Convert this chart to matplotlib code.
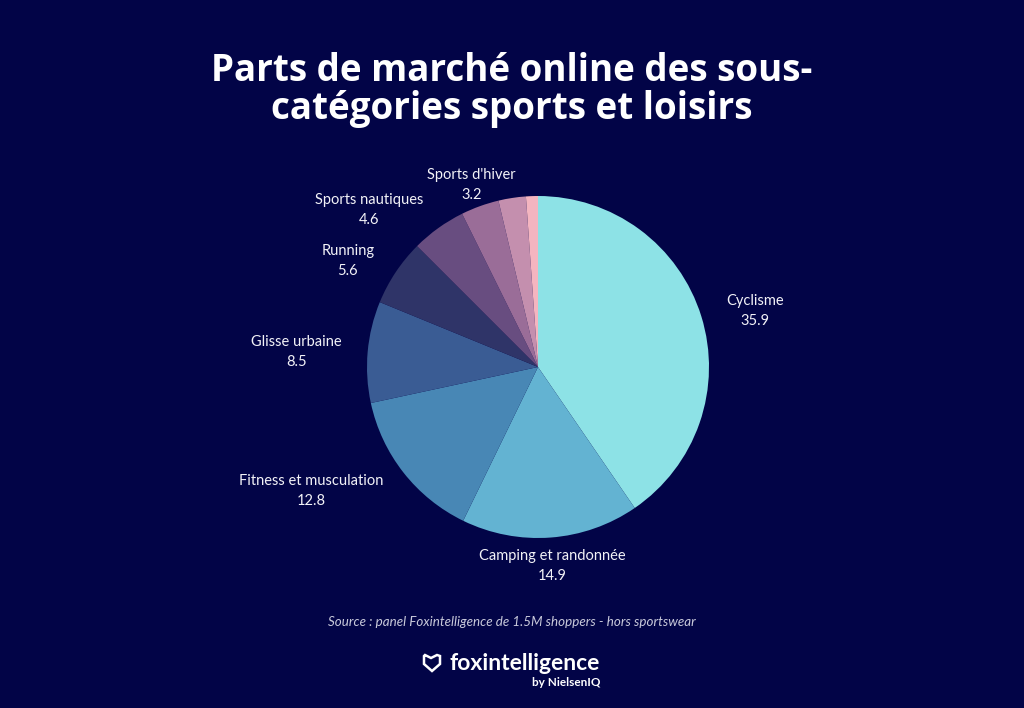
import numpy as np
import matplotlib
matplotlib.use("Agg")
from matplotlib import pyplot as plt
from matplotlib.patches import Polygon

# data
categories = ['Cyclisme', 'Camping et randonnée', 'Fitness et musculation',
              'Glisse urbaine', 'Running', 'Sports nautiques', "Sports d'hiver", '', '']
values = [35.9, 14.9, 12.8, 8.5, 5.6, 4.6, 3.2, 2.3, 1.0]
colors = ['#8de2e6', '#63b3d2', '#4887b5', '#3a5c94', '#2f3468',
          '#684d80', '#9a6d98', '#c48fae', '#f4b5c0']

BG = '#020447'
W, H = 1024, 708
plt.rcParams['font.family'] = ['Lato', 'DejaVu Sans']

fig = plt.figure(figsize=(W / 100, H / 100), dpi=100, facecolor=BG)

# pie placed by pixel box (center 538, 367 from top; radius 171)
cx, cy, r = 538, H - 367, 171
ax = fig.add_axes([(cx - r) / W, (cy - r) / H, 2 * r / W, 2 * r / H])
ax.set_facecolor(BG)
wedges, _ = ax.pie(values, colors=colors, startangle=90, counterclock=False,
                   radius=1, wedgeprops=dict(linewidth=0))
ax.set_xlim(-1, 1)
ax.set_ylim(-1, 1)
ax.axis('off')

# outside labels
for w, name, v in zip(wedges, categories, values):
    if not name:
        continue
    mid = np.radians((w.theta1 + w.theta2) / 2.)
    x, y = np.cos(mid), np.sin(mid)
    if x > 0.5:
        ha = 'left'
    elif x < -0.5:
        ha = 'right'
    else:
        ha = 'center'
    ax.text(1.15 * x, 1.15 * y - 0.015, '%s\n%.1f' % (name, v), ha=ha, va='center',
            multialignment='center', color='#f2f2f7', fontsize=10.5,
            linespacing=1.55, clip_on=False)

# title
fig.text(0.5, 1 - 90 / H, 'Parts de marché online des sous-\ncatégories sports et loisirs',
         ha='center', va='center', color='white', fontsize=26.5, fontweight='bold',
         family=['Open Sans', 'DejaVu Sans'], linespacing=0.98)

# source
fig.text(0.5, 1 - 622 / H,
         'Source : panel Foxintelligence de 1.5M shoppers - hors sportswear',
         ha='center', va='center', color='#c9cadb', fontsize=9.6, style='italic')

# logo
fig.text(0.5 + 13 / W, 1 - 663 / H, 'foxintelligence', ha='center', va='center',
         color='white', fontsize=16.5, fontweight='bold')
fig.text(600 / W, 1 - 682 / H, 'by NielsenIQ', ha='right', va='center',
         color='white', fontsize=8.5, fontweight='bold')
shield = np.array([[425, 655], [431, 658], [437, 655], [440, 656], [440, 664],
                   [432, 671], [424, 664], [424, 656]], dtype=float)
shield[:, 0] /= W
shield[:, 1] = 1 - shield[:, 1] / H
fig.patches.append(Polygon(shield, closed=True, transform=fig.transFigure,
                           facecolor='none', edgecolor='white', lw=1.8))

fig.savefig('out.png', dpi=100, facecolor=BG)
